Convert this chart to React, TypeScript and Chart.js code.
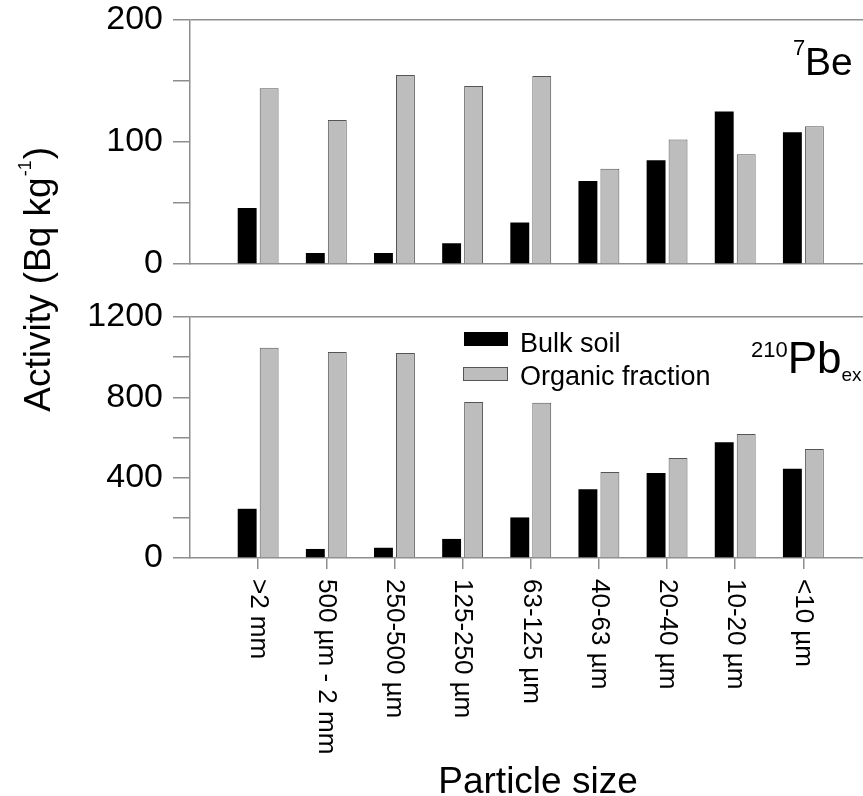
import React, { useEffect, useRef } from 'react';
import { Chart, registerables } from 'chart.js';

Chart.register(...registerables);

// ---------- data ----------
const categories = [
  '>2 mm',
  '500 µm - 2 mm',
  '250-500 µm',
  '125-250 µm',
  '63-125 µm',
  '40-63 µm',
  '20-40 µm',
  '10-20 µm',
  '<10 µm',
];
const seriesLabels = ['Bulk soil', 'Organic fraction'];
const be7Bulk = [46, 9, 9, 17, 34, 68, 85, 125, 108];
const be7Organic = [144, 118, 155, 146, 154, 78, 102, 90, 113];
const pb210Bulk = [245, 45, 51, 95, 202, 342, 423, 576, 445];
const pb210Organic = [1047, 1026, 1021, 777, 773, 428, 498, 617, 543];
const topTickLabels = [0, 100, 200];
const bottomTickLabels = [0, 400, 800, 1200];

// ---------- style ----------
const FONT = '"Liberation Sans", Arial, Helvetica, sans-serif';
const AXIS = '#8e8e8e';
const BULK_COLOR = '#000000';
const ORG_COLOR = '#bdbdbd';
const ORG_BORDER = '#555555';
const W = 863;
const H = 796;
const LEFT = 190;
const XMAX = 9.875;

function toPoints(vals: number[]) {
  return vals.map((y, i) => ({ x: i + 1, y }));
}

function makeDatasets(bulk: number[], org: number[]) {
  return [
    {
      label: seriesLabels[0],
      data: toPoints(bulk),
      backgroundColor: BULK_COLOR,
      borderWidth: 0,
      categoryPercentage: 0.645,
      barPercentage: 0.86,
    },
    {
      label: seriesLabels[1],
      data: toPoints(org),
      backgroundColor: ORG_COLOR,
      borderColor: ORG_BORDER,
      borderWidth: 1,
      categoryPercentage: 0.645,
      barPercentage: 0.86,
    },
  ];
}

function xScale(bottomPx: number, showTicks: boolean) {
  return {
    type: 'linear',
    min: 0,
    max: XMAX,
    offset: false,
    afterBuildTicks: (s: any) => {
      s.ticks = categories.map((_, i) => ({ value: i + 1 }));
    },
    afterFit: (s: any) => {
      s.height = H - bottomPx;
      s.paddingLeft = 0;
      s.paddingRight = 0;
    },
    ticks: { display: false },
    grid: {
      display: showTicks,
      offset: false,
      drawOnChartArea: false,
      drawTicks: true,
      tickLength: 11,
      color: AXIS,
      lineWidth: 1.5,
    },
    border: { display: true, color: AXIS, width: 1.5 },
  };
}

function yScale(max: number, step: number, labels: number[]) {
  return {
    type: 'linear',
    min: 0,
    max,
    afterFit: (s: any) => {
      s.width = LEFT;
      s.paddingTop = 0;
      s.paddingBottom = 0;
    },
    ticks: {
      stepSize: step,
      autoSkip: false,
      color: '#000',
      padding: 10,
      font: { family: FONT, size: 34 },
      callback: (v: any) => (labels.includes(Number(v)) ? String(v) : ''),
    },
    grid: {
      drawOnChartArea: true,
      color: (c: any) => (c.tick && c.tick.value === max ? AXIS : 'rgba(0,0,0,0)'),
      tickColor: AXIS,
      tickLength: 17,
      lineWidth: 1.5,
    },
    border: { display: true, color: AXIS, width: 1.5 },
  };
}

const topAnnotations = {
  id: 'topAnnotations',
  afterDraw(chart: any) {
    const ctx = chart.ctx;
    ctx.save();
    ctx.fillStyle = '#000';
    ctx.textBaseline = 'alphabetic';
    ctx.textAlign = 'left';
    // y-axis title
    const main = 'Activity (Bq kg';
    const sup = '-1';
    const close = ')';
    ctx.font = `37px ${FONT}`;
    const w1 = ctx.measureText(main).width;
    const w3 = ctx.measureText(close).width;
    ctx.font = `18px ${FONT}`;
    const w2 = ctx.measureText(sup).width + 2;
    const total = w1 + w2 + w3;
    ctx.translate(50, 147 + total);
    ctx.rotate(-Math.PI / 2);
    ctx.font = `37px ${FONT}`;
    ctx.fillText(main, 0, 0);
    ctx.font = `18px ${FONT}`;
    ctx.fillText(sup, w1 + 1, -19);
    ctx.font = `37px ${FONT}`;
    ctx.fillText(close, w1 + w2, 0);
    ctx.restore();

    ctx.save();
    ctx.fillStyle = '#000';
    ctx.textAlign = 'left';
    ctx.textBaseline = 'alphabetic';
    ctx.font = `22px ${FONT}`;
    ctx.fillText('7', 793, 55);
    ctx.font = `39px ${FONT}`;
    ctx.fillText('Be', 805, 75);
    ctx.restore();
  },
};

const bottomAnnotations = {
  id: 'bottomAnnotations',
  afterDraw(chart: any) {
    const ctx = chart.ctx;
    const ds = chart.data.datasets;
    ctx.save();
    // legend
    ctx.fillStyle = ds[0].backgroundColor;
    ctx.fillRect(464, 332, 44, 14);
    ctx.fillStyle = ds[1].backgroundColor;
    ctx.fillRect(463, 367, 44, 13);
    ctx.strokeStyle = ds[1].borderColor;
    ctx.lineWidth = 1;
    ctx.strokeRect(463.5, 367.5, 44, 13);
    ctx.fillStyle = '#000';
    ctx.textAlign = 'left';
    ctx.textBaseline = 'alphabetic';
    ctx.font = `27px ${FONT}`;
    ctx.fillText(ds[0].label, 520, 352);
    ctx.fillText(ds[1].label, 520, 385);

    // 210Pb_ex
    ctx.font = `22px ${FONT}`;
    ctx.fillText('210', 751, 357);
    let x = 751 + ctx.measureText('210').width;
    ctx.font = `44px ${FONT}`;
    ctx.fillText('Pb', x, 373);
    x += ctx.measureText('Pb').width;
    ctx.font = `19px ${FONT}`;
    ctx.fillText('ex', x, 381);

    // x tick labels (rotated clockwise)
    const xs = chart.scales.x;
    ctx.font = `26px ${FONT}`;
    ctx.textBaseline = 'middle';
    categories.forEach((c, i) => {
      const px = xs.getPixelForValue(i + 1);
      ctx.save();
      ctx.translate(px, 579);
      ctx.rotate(Math.PI / 2);
      ctx.fillText(c, 0, 0);
      ctx.restore();
    });

    // x title
    ctx.textAlign = 'center';
    ctx.textBaseline = 'alphabetic';
    ctx.font = `37px ${FONT}`;
    ctx.fillText('Particle size', 538, 793);
    ctx.restore();
  },
};

function baseOptions(top: number, bottom: number, max: number, step: number, labels: number[], showXTicks: boolean) {
  return {
    responsive: false,
    animation: false,
    devicePixelRatio: 1,
    layout: { padding: { top, left: 0, right: 0, bottom: 0 } },
    plugins: { legend: { display: false }, tooltip: { enabled: false } },
    scales: {
      x: xScale(bottom, showXTicks),
      y: yScale(max, step, labels),
    },
  };
}

export default function App() {
  const topRef = useRef<HTMLCanvasElement>(null);
  const botRef = useRef<HTMLCanvasElement>(null);

  useEffect(() => {
    document.body.style.margin = '0';
    const c1 = new Chart(topRef.current as HTMLCanvasElement, {
      type: 'bar',
      data: { datasets: makeDatasets(be7Bulk, be7Organic) as any },
      options: baseOptions(20, 264, 200, 50, topTickLabels, false) as any,
      plugins: [topAnnotations],
    });
    const c2 = new Chart(botRef.current as HTMLCanvasElement, {
      type: 'bar',
      data: { datasets: makeDatasets(pb210Bulk, pb210Organic) as any },
      options: baseOptions(317, 558, 1200, 200, bottomTickLabels, true) as any,
      plugins: [bottomAnnotations],
    });
    return () => {
      c1.destroy();
      c2.destroy();
    };
  }, []);

  return (
    <div style={{ position: 'relative', width: W, height: H, background: '#fff', overflow: 'hidden' }}>
      <canvas ref={topRef} width={W} height={H} style={{ position: 'absolute', left: 0, top: 0 }} />
      <canvas ref={botRef} width={W} height={H} style={{ position: 'absolute', left: 0, top: 0 }} />
    </div>
  );
}
